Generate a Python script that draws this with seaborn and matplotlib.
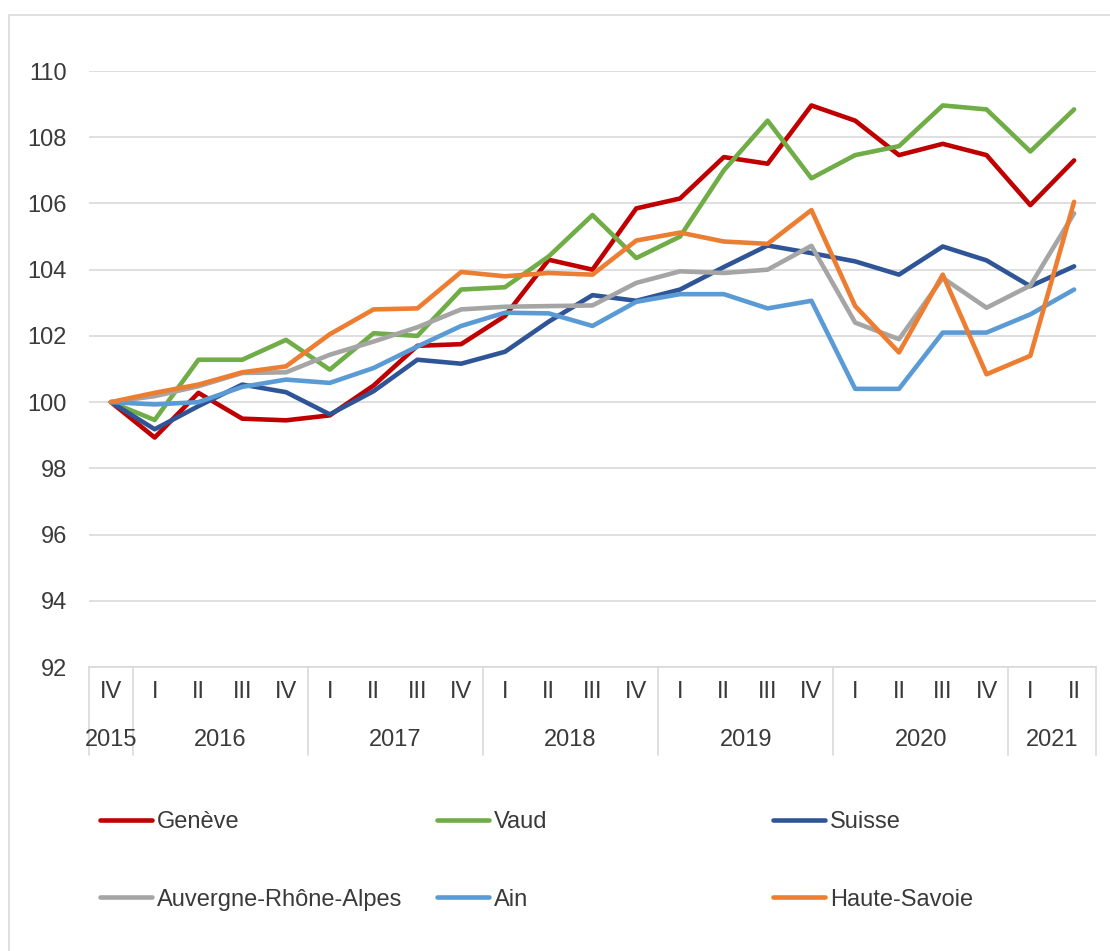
import numpy as np
import pandas as pd
import matplotlib
matplotlib.use('Agg')
import matplotlib.pyplot as plt
import matplotlib.transforms as mtransforms
from matplotlib.patches import Rectangle
import seaborn as sns

# quarters from 2015 IV to 2021 II
quarters = ['IV', 'I', 'II', 'III', 'IV', 'I', 'II', 'III', 'IV', 'I', 'II', 'III', 'IV',
            'I', 'II', 'III', 'IV', 'I', 'II', 'III', 'IV', 'I', 'II']
years = ['2015', '2016', '2017', '2018', '2019', '2020', '2021']
year_centers = [0, 2.5, 6.5, 10.5, 14.5, 18.5, 21.5]
year_bounds = [-0.5, 0.5, 4.5, 8.5, 12.5, 16.5, 20.5, 22.5]

geneve = [100, 98.93, 100.28, 99.5, 99.45, 99.6, 100.5, 101.7, 101.75, 102.6, 104.3, 104.0,
          105.85, 106.15, 107.4, 107.2, 108.96, 108.5, 107.46, 107.8, 107.46, 105.95, 107.3]
vaud = [100, 99.46, 101.28, 101.28, 101.88, 100.98, 102.08, 102.0, 103.4, 103.47, 104.4, 105.65,
        104.35, 105.0, 107.0, 108.5, 106.76, 107.46, 107.73, 108.96, 108.84, 107.57, 108.84]
suisse = [100, 99.18, 99.88, 100.53, 100.3, 99.63, 100.33, 101.28, 101.16, 101.52, 102.43, 103.23,
          103.06, 103.4, 104.08, 104.73, 104.5, 104.25, 103.85, 104.7, 104.28, 103.5, 104.1]
auvergne = [100, 100.18, 100.48, 100.88, 100.9, 101.43, 101.83, 102.26, 102.8, 102.88, 102.9, 102.92,
            103.6, 103.95, 103.9, 104.0, 104.72, 102.4, 101.9, 103.75, 102.85, 103.52, 105.7]
ain = [100, 99.93, 100.0, 100.46, 100.68, 100.58, 101.03, 101.68, 102.3, 102.7, 102.68, 102.3,
       103.03, 103.26, 103.26, 102.83, 103.06, 100.4, 100.4, 102.1, 102.1, 102.65, 103.4]
haute_savoie = [100, 100.28, 100.53, 100.9, 101.08, 102.05, 102.8, 102.83, 103.93, 103.8, 103.9, 103.85,
                104.88, 105.12, 104.85, 104.78, 105.8, 102.9, 101.5, 103.85, 100.84, 101.4, 106.05]

series = {
    'Genève': geneve,
    'Vaud': vaud,
    'Suisse': suisse,
    'Auvergne-Rhône-Alpes': auvergne,
    'Ain': ain,
    'Haute-Savoie': haute_savoie,
}
colors = ['#C00000', '#70AD47', '#2F5597', '#A5A5A5', '#5B9BD5', '#ED7D31']

rows = []
for name, vals in series.items():
    for i, v in enumerate(vals):
        rows.append({'pos': i, 'valeur': v, 'region': name})
df = pd.DataFrame(rows)

sns.set_theme(style='white')
plt.rcParams['font.family'] = ['Liberation Sans', 'DejaVu Sans']
txt_color = '#3A3A3A'
grid_color = '#D9D9D9'

fig = plt.figure(figsize=(11.1, 9.51), dpi=100)
ax = fig.add_axes([89 / 1110, 1 - 667 / 951, (1096 - 89) / 1110, (667 - 71) / 951])

sns.lineplot(data=df, x='pos', y='valeur', hue='region', hue_order=list(series.keys()),
             palette=colors, linewidth=3.3, sort=False, ax=ax, legend=False)

ax.set_xlim(-0.5, 22.5)
ax.set_ylim(92, 110)
ax.set_yticks(np.arange(92, 111, 2))
ax.set_yticklabels([str(v) for v in range(92, 111, 2)], fontsize=17, color=txt_color)
ax.tick_params(axis='y', length=0, pad=16)
ax.set_xticks([])
ax.set_xlabel('')
ax.set_ylabel('')
ax.yaxis.grid(True, color=grid_color, linewidth=1.2)
ax.set_axisbelow(True)
for s in ['left', 'right', 'top']:
    ax.spines[s].set_visible(False)
ax.spines['bottom'].set_color(grid_color)
ax.spines['bottom'].set_linewidth(1.2)

# category table under the axis
trans = mtransforms.blended_transform_factory(ax.transData, ax.transAxes)
for i, q in enumerate(quarters):
    ax.text(i, -0.042, q, transform=trans, ha='center', va='center', fontsize=17, color=txt_color)
for y, c in zip(years, year_centers):
    ax.text(c, -0.1225, y, transform=trans, ha='center', va='center', fontsize=17, color=txt_color)
for b in year_bounds:
    ax.plot([b, b], [0, -0.148], transform=trans, color=grid_color, linewidth=1.2, clip_on=False)

# legend in three columns of two rows
lines = ax.get_lines()[:6]
names = list(series.keys())
col_x = [100, 437, 773]
for k in range(3):
    hs = [lines[k], lines[k + 3]]
    ls = [names[k], names[k + 3]]
    leg = fig.legend(hs, ls, loc='center left', bbox_to_anchor=(col_x[k] / 1110, 1 - 861 / 951),
                     frameon=False, fontsize=17, handlelength=2.2, handletextpad=0.2,
                     labelspacing=2.35, borderpad=0, borderaxespad=0)
    for t in leg.get_texts():
        t.set_color(txt_color)

# outer chart frame
fig.patches.append(Rectangle((9 / 1110, -0.1), 1.2, 1.1 - 15 / 951, transform=fig.transFigure,
                             fill=False, edgecolor=grid_color, linewidth=1.2))

fig.savefig('out.png', dpi=100)
